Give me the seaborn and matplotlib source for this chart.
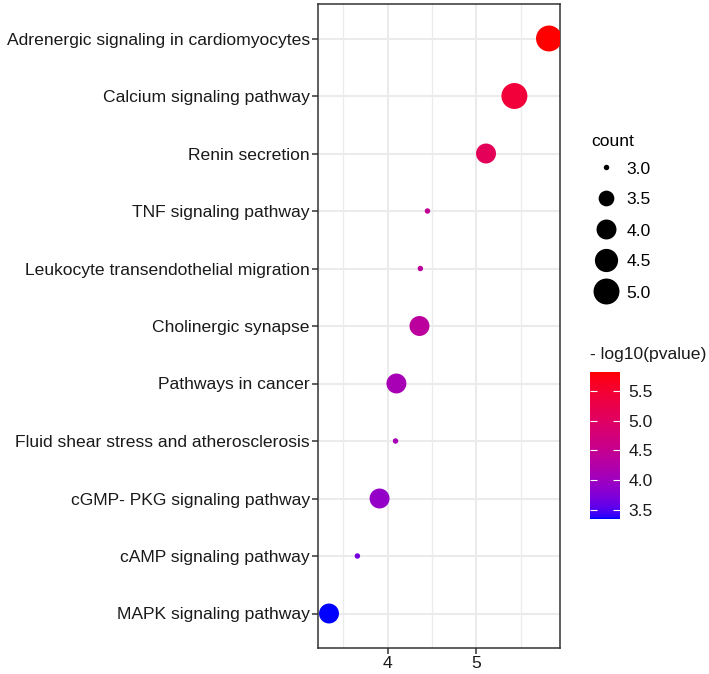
import numpy as np
import pandas as pd
import seaborn as sns
import matplotlib.pyplot as plt
from matplotlib.colors import ListedColormap, Normalize
from matplotlib.cm import ScalarMappable
from matplotlib.lines import Line2D

pathways = [
    "Adrenergic signaling in cardiomyocytes",
    "Calcium signaling pathway",
    "Renin secretion",
    "TNF signaling pathway",
    "Leukocyte transendothelial migration",
    "Cholinergic synapse",
    "Pathways in cancer",
    "Fluid shear stress and atherosclerosis",
    "cGMP- PKG signaling pathway",
    "cAMP signaling pathway",
    "MAPK signaling pathway",
]
neg_log10_p = [5.82, 5.43, 5.11, 4.45, 4.37, 4.36, 4.10, 4.09, 3.91, 3.66, 3.34]
counts = [5, 5, 4, 3, 3, 4, 4, 3, 4, 3, 4]
count_breaks = [3.0, 3.5, 4.0, 4.5, 5.0]
color_breaks = [3.5, 4.0, 4.5, 5.0, 5.5]

df = pd.DataFrame({"pathway": pathways, "p": neg_log10_p, "count": counts})


# ggplot-like blue -> red gradient, interpolated in Lab space
def _to_lab(rgb):
    rgb = np.asarray(rgb, float)
    lin = np.where(rgb <= 0.04045, rgb / 12.92, ((rgb + 0.055) / 1.055) ** 2.4)
    m = np.array([[0.4124, 0.3576, 0.1805],
                  [0.2126, 0.7152, 0.0722],
                  [0.0193, 0.1192, 0.9505]])
    xyz = m @ lin / np.array([0.95047, 1.0, 1.08883])
    f = np.where(xyz > 0.008856, np.cbrt(xyz), 7.787 * xyz + 16 / 116)
    return np.array([116 * f[1] - 16, 500 * (f[0] - f[1]), 200 * (f[1] - f[2])])


def _from_lab(lab):
    L, a, b = lab
    fy = (L + 16) / 116
    f = np.array([fy + a / 500, fy, fy - b / 200])
    xyz = np.where(f ** 3 > 0.008856, f ** 3, (f - 16 / 116) / 7.787)
    xyz = xyz * np.array([0.95047, 1.0, 1.08883])
    m = np.array([[3.2406, -1.5372, -0.4986],
                  [-0.9689, 1.8758, 0.0415],
                  [0.0557, -0.2040, 1.0570]])
    lin = np.clip(m @ xyz, 0, 1)
    rgb = np.where(lin <= 0.0031308, 12.92 * lin, 1.055 * lin ** (1 / 2.4) - 0.055)
    return np.clip(rgb, 0, 1)


lo, hi = _to_lab([0, 0, 1]), _to_lab([1, 0, 0])
cmap = ListedColormap([_from_lab(lo + t * (hi - lo)) for t in np.linspace(0, 1, 256)])


# ggplot scale_size (area palette, range 1..6) converted to matplotlib marker area
def gg_size(c):
    t = (c - 3.0) / 2.0
    size = 1 + 5 * np.sqrt(t)
    d_px = 1.44 * (size * 72.27 / 25.4 + 0.945)
    return (d_px * 0.72) ** 2


plt.rcParams["font.family"] = ["Liberation Sans", "DejaVu Sans"]
fig = plt.figure(figsize=(7.09, 6.74), dpi=100)
ax = fig.add_axes([318 / 709, 1 - 648 / 674, 242 / 709, 644 / 674])

sns.scatterplot(data=df, x="p", y="pathway", hue="p", palette=cmap,
                hue_norm=(min(neg_log10_p), max(neg_log10_p)),
                size="count", sizes={c: gg_size(c) for c in set(counts)},
                linewidth=0, legend=False, ax=ax, zorder=3)

rng = max(neg_log10_p) - min(neg_log10_p)
ax.set_xlim(min(neg_log10_p) - 0.05 * rng, max(neg_log10_p) + 0.05 * rng)
ax.set_ylim(len(pathways) - 0.4, -0.6)
ax.set_xticks([4, 5])
ax.set_xticks([3.5, 4.5, 5.5], minor=True)
ax.set_xlabel("")
ax.set_ylabel("")
ax.grid(True, which="major", color="#EBEBEB", linewidth=1.5, zorder=0)
ax.grid(True, which="minor", axis="x", color="#EBEBEB", linewidth=0.9, zorder=0)
ax.set_axisbelow(True)
for s in ax.spines.values():
    s.set_color("#333333")
    s.set_linewidth(1.1)
ax.tick_params(which="major", length=4, width=1.1, color="#333333",
               labelsize=12.6, labelcolor="#1a1a1a", pad=2)
ax.tick_params(which="minor", length=0)

# size legend
handles = [Line2D([], [], marker="o", linestyle="", color="black",
                  markeredgewidth=0, markersize=np.sqrt(gg_size(c)))
           for c in count_breaks]
leg = fig.legend(handles, [f"{c:.1f}" for c in count_breaks], title="count",
                 loc="upper left", bbox_to_anchor=(583 / 709, 1 - 125 / 674),
                 frameon=False, fontsize=12.6, title_fontsize=12.6,
                 labelspacing=0.9, handletextpad=0.4, borderpad=0,
                 alignment="left", handlelength=1.6)
leg._legend_box.sep = 9

# colour bar
cax = fig.add_axes([590 / 709, 1 - 519 / 674, 30 / 709, 147 / 674])
cb = fig.colorbar(ScalarMappable(norm=Normalize(min(neg_log10_p), max(neg_log10_p)), cmap=cmap),
                  cax=cax, ticks=color_breaks)
cb.outline.set_visible(False)
cb.ax.set_yticklabels([f"{v:.1f}" for v in color_breaks])
cb.ax.tick_params(direction="in", length=5, width=0.8, color="white",
                  left=True, right=True, labelsize=12.6, labelcolor="#1a1a1a", pad=6)
fig.text(590 / 709, 1 - 355 / 674, "- log10(pvalue)", fontsize=12.6,
         ha="left", va="center", color="#1a1a1a")

fig.savefig("out.png", dpi=100)
